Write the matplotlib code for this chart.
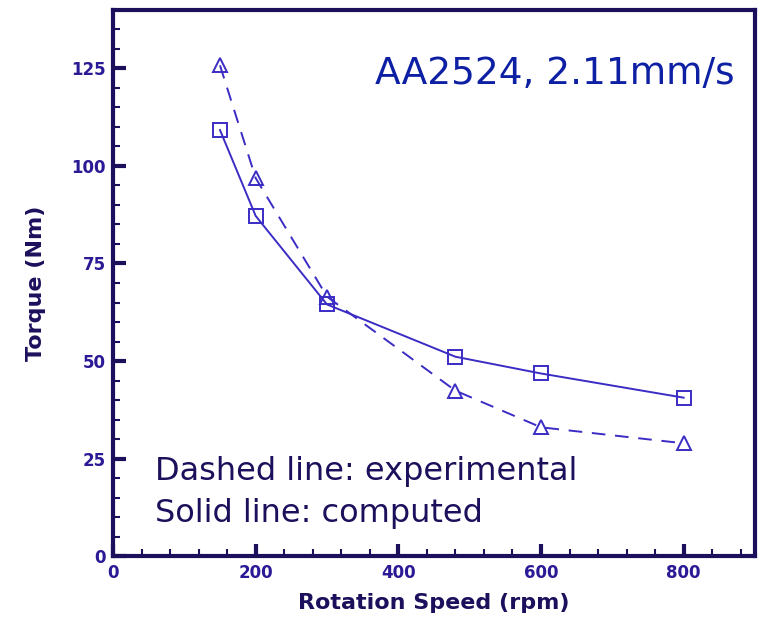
import matplotlib
matplotlib.use("Agg")
import matplotlib.pyplot as plt
from matplotlib.ticker import MultipleLocator

rpm = [150, 200, 300, 480, 600, 800]
computed = [109.2, 87.2, 64.5, 51.1, 46.8, 40.6]
experimental = [125.8, 96.9, 66.5, 42.4, 33.0, 28.9]
x_ticks = [0, 200, 400, 600, 800]
y_ticks = [0, 25, 50, 75, 100, 125]

axis_col = "#1c0f5c"
tick_col = "#2b1a96"
line_col = "#3a2cc4"
title_col = "#0d1fa3"

fig = plt.figure(figsize=(7.6, 6.2), dpi=100)
ax = fig.add_axes([0.1487, 0.1032, 0.8447, 0.8807])

ax.plot(rpm, computed, '-', color=line_col, lw=1.4, marker='s', ms=10,
        mfc='none', mec=line_col, mew=1.4)
ax.plot(rpm, experimental, '--', color=line_col, lw=1.4, dashes=(7, 5),
        marker='^', ms=10, mfc='none', mec=line_col, mew=1.4)

ax.set_xlim(0, 900)
ax.set_ylim(0, 140)
ax.set_xticks(x_ticks)
ax.set_yticks(y_ticks)
ax.xaxis.set_minor_locator(MultipleLocator(40))
ax.yaxis.set_minor_locator(MultipleLocator(5))

for s in ax.spines.values():
    s.set_color(axis_col)
    s.set_linewidth(3)

ax.tick_params(which='major', direction='in', length=9, width=3, color=axis_col,
               labelcolor=tick_col, labelsize=12)
ax.tick_params(which='minor', direction='in', length=5, width=1.5, color=axis_col)
ax.tick_params(axis='x', pad=6)
ax.tick_params(axis='y', pad=5)
for lab in ax.get_xticklabels() + ax.get_yticklabels():
    lab.set_fontfamily('DejaVu Sans')
    lab.set_fontweight('bold')

ax.set_xlabel("Rotation Speed (rpm)", fontsize=16, fontweight='bold',
              family='DejaVu Sans', color=axis_col, labelpad=8)
ax.set_ylabel("Torque (Nm)", fontsize=16, fontweight='bold',
              family='DejaVu Sans', color=axis_col, labelpad=18)

ax.text(0.969, 0.864, "AA2524, 2.11mm/s", transform=ax.transAxes, ha='right',
        va='baseline', fontsize=27, family='DejaVu Sans', color=title_col)
ax.text(0.065, 0.139, "Dashed line: experimental", transform=ax.transAxes,
        ha='left', va='baseline', fontsize=23, family='DejaVu Sans', color=axis_col)
ax.text(0.065, 0.062, "Solid line: computed", transform=ax.transAxes,
        ha='left', va='baseline', fontsize=23, family='DejaVu Sans', color=axis_col)

fig.savefig("out.png", dpi=100)
